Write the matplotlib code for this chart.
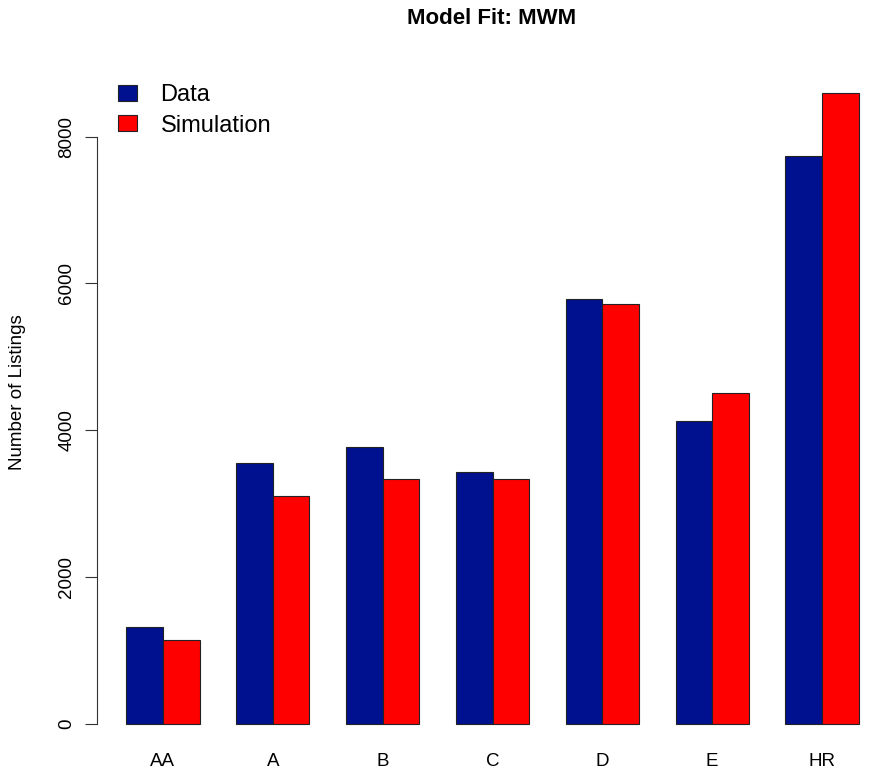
import numpy as np, matplotlib
matplotlib.use('Agg')
import matplotlib.pyplot as plt
from matplotlib.patches import Patch

DBLUE = '#00118F'; RED = '#FF0000'
plt.rcParams.update({'font.family': ['Liberation Sans', 'DejaVu Sans'], 'figure.dpi': 100})

categories = ['AA', 'A', 'B', 'C', 'D', 'E', 'HR']
data_vals = [1321, 3559, 3777, 3437, 5790, 4131, 7741]
sim_vals = [1144, 3110, 3341, 3341, 5717, 4509, 8600]

W, H = 872, 782
fig = plt.figure(figsize=(W / 100, H / 100))
# plot region in pixels (R style: the right margin runs past the image edge)
left, right, top, bottom = 97, 888, 67.4, 749
ax = fig.add_axes([left / W, 1 - bottom / H, (right - left) / W, (bottom - top) / H])

n = len(categories)
x0 = 1 + 3 * np.arange(n)  # R barplot beside=TRUE, space=c(0,1)
ax.bar(x0, data_vals, width=1, align='edge', color=DBLUE, edgecolor='#222222', linewidth=0.8)
ax.bar(x0 + 1, sim_vals, width=1, align='edge', color=RED, edgecolor='#222222', linewidth=0.8)

ymax = max(max(data_vals), max(sim_vals))
ax.set_xlim(0.2, 21.8)
ax.set_ylim(-0.04 * ymax, 1.04 * ymax)

for s in ['top', 'right', 'bottom']:
    ax.spines[s].set_visible(False)
ax.spines['left'].set_bounds(0, 8000)
ax.spines['left'].set_color('#333333')
ax.set_yticks([0, 2000, 4000, 6000, 8000])
ax.set_yticklabels(['0', '2000', '4000', '6000', '8000'], rotation=90, va='center')
ax.tick_params(axis='y', length=8.6, width=0.8, color='#333333', pad=7, labelsize=13.5)
ax.set_xticks(x0 + 1)
ax.set_xticklabels(categories)
ax.tick_params(axis='x', length=0, pad=3, labelsize=13.5)

fig.text(18 / W, 1 - 392 / H, 'Number of Listings', rotation=90, ha='center', va='center', fontsize=13.5)
fig.text(492 / W, 1 - 18 / H, 'Model Fit: MWM', ha='center', va='center', fontsize=16, fontweight='bold')

handles = [Patch(facecolor=DBLUE, edgecolor='#222222', linewidth=0.8, label='Data'),
           Patch(facecolor=RED, edgecolor='#222222', linewidth=0.8, label='Simulation')]
fig.legend(handles=handles, loc='upper left', bbox_to_anchor=(118 / W, 1 - 84 / H), frameon=False,
           fontsize=17, handlelength=0.8, handleheight=0.64, handletextpad=1.0, labelspacing=0.36,
           borderaxespad=0, borderpad=0)

plt.savefig('out.png', dpi=100)
print('[OK] out.png')
